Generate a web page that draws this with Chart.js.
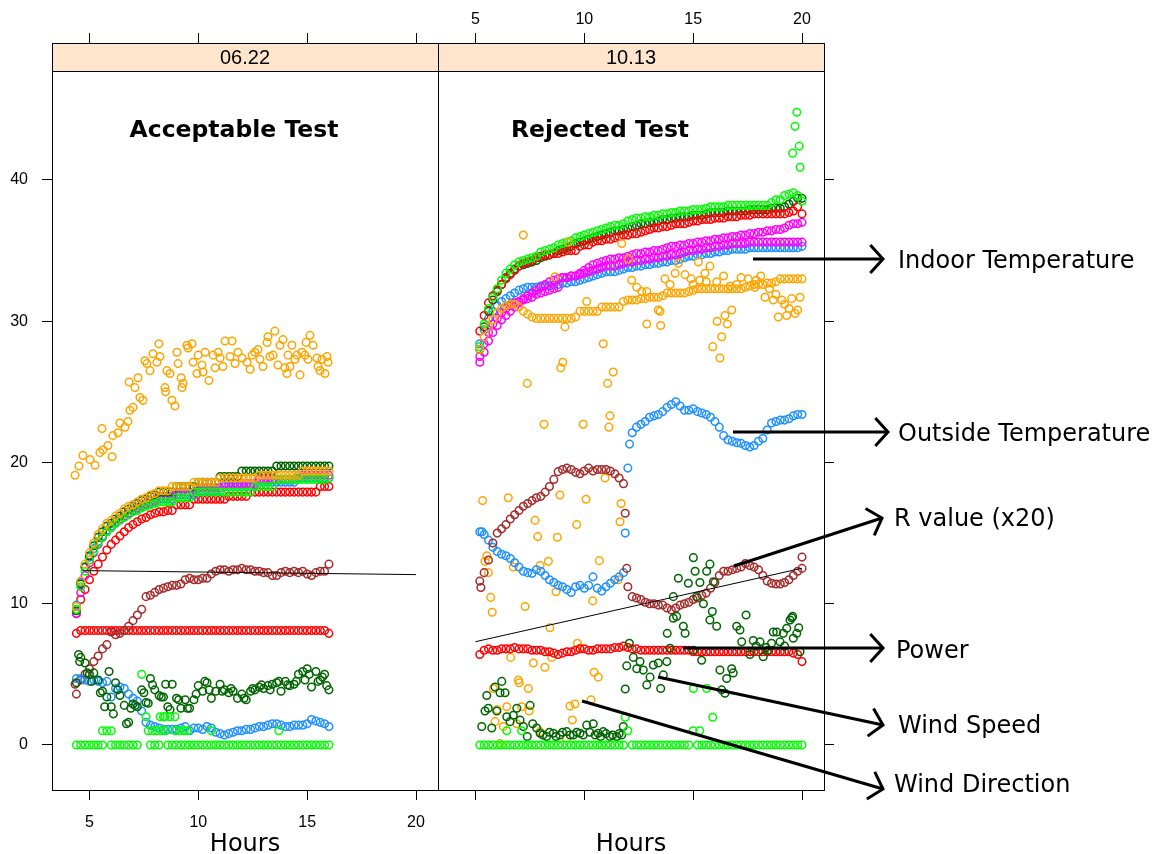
<!DOCTYPE html>
<html><head><meta charset="utf-8">
<script src="https://cdn.jsdelivr.net/npm/chart.js@4.4.0/dist/chart.umd.min.js"></script>
<style>
html,body{margin:0;padding:0;background:#fff;}
#wrap{position:relative;width:1158px;height:854px;background:#fff;}
canvas{position:absolute;left:0;top:0;}
</style></head><body>
<div id="wrap"><canvas id="cL" width="1158" height="854"></canvas><canvas id="cR" width="1158" height="854"></canvas></div>
<script>
// ---------- axis ticks ----------
const xTickVals = [5, 10, 15, 20];
const yTickVals = [0, 10, 20, 30, 40];
const stripLabels = ['06.22', '10.13'];
const panelTitles = ['Acceptable Test', 'Rejected Test'];
const axisTitle = 'Hours';

// ---------- left panel (06.22) ----------
const hoursL = [4.4,4.6,4.8,5.0,5.2,5.4,5.6,5.8,6.0,6.2,
 6.4,6.6,6.8,7.0,7.2,7.4,7.6,7.8,8.0,8.2,
 8.4,8.6,8.8,9.0,9.2,9.4,9.6,9.8,10.0,10.2,
 10.4,10.6,10.8,11.0,11.2,11.4,11.6,11.8,12.0,12.2,
 12.4,12.6,12.8,13.0,13.2,13.4,13.6,13.8,14.0,14.2,
 14.4,14.6,14.8,15.0,15.2,15.4,15.6,15.8,16.0];
const indoorRedL = [9.3,10.3,11.0,11.7,12.3,12.8,13.3,13.8,14.2,14.5,
 14.8,15.1,15.4,15.6,15.8,16.0,16.1,16.3,16.4,16.5,
 16.5,16.6,16.6,17.0,17.0,17.0,17.0,17.4,17.4,17.4,
 17.4,17.4,17.4,17.4,17.4,17.6,17.6,17.6,17.6,17.6,
 17.9,17.9,17.9,17.9,17.9,17.9,17.9,17.9,17.9,17.9,
 17.9,17.9,17.9,17.9,17.9,17.9,18.3,18.3,18.3];
const indoorLimeL = [9.6,11.2,12.3,13.1,13.7,14.3,14.7,15.1,15.4,15.7,
 15.9,16.1,16.3,16.5,16.6,16.8,16.9,17.0,17.1,17.2,
 17.2,17.2,17.2,17.5,17.5,17.5,17.5,17.9,17.9,17.9,
 17.9,17.9,17.9,17.9,17.9,17.9,17.9,17.9,17.9,17.9,
 17.9,18.3,18.3,18.3,18.3,18.3,18.8,18.8,18.8,18.8,
 18.8,18.8,18.8,18.8,18.8,18.8,18.8,18.8,18.9];
const indoorOrangeL = [9.8,11.6,12.8,13.6,14.3,14.9,15.3,15.7,15.9,16.2,
 16.4,16.7,16.9,17.0,17.2,17.4,17.5,17.7,17.8,18.0,
 18.0,18.0,18.3,18.3,18.3,18.3,18.3,18.6,18.6,18.6,
 18.6,18.6,18.6,18.9,18.9,18.9,18.9,18.9,18.9,18.9,
 18.9,18.9,19.1,19.1,19.1,19.1,19.1,19.1,19.1,19.1,
 19.1,19.1,19.4,19.4,19.4,19.4,19.4,19.4,19.4];
const indoorDarkGreenL = [9.5,11.4,12.6,13.4,14.1,14.7,15.1,15.5,15.7,16.0,
 16.2,16.5,16.7,16.9,17.1,17.3,17.4,17.6,17.7,17.9,
 17.9,17.9,17.9,18.3,18.3,18.3,18.3,18.3,18.6,18.6,
 18.6,18.6,18.6,19.0,19.0,19.0,19.0,19.0,19.4,19.4,
 19.4,19.4,19.4,19.4,19.4,19.4,19.75,19.75,19.75,19.75,
 19.75,19.75,19.75,19.75,19.75,19.75,19.75,19.75,19.75];
const indoorMagentaL = [9.3,10.8,12.0,12.9,13.6,14.2,14.7,15.1,15.4,15.7,
 16.0,16.2,16.4,16.6,16.8,16.9,17.1,17.2,17.3,17.6,
 17.6,17.6,17.6,17.9,17.9,17.9,17.9,17.9,18.2,18.2,
 18.2,18.2,18.2,18.2,18.5,18.5,18.5,18.5,18.5,18.5,
 18.5,18.5,18.8,18.8,18.8,18.8,18.8,18.8,18.8,18.8,
 18.8,19.1,19.1,19.1,19.1,19.1,19.1,19.1,19.1];
const indoorBlueL = [9.9,11.5,12.6,13.3,13.9,14.4,14.8,15.2,15.5,15.8,
 16.0,16.2,16.4,16.6,16.7,16.9,17.0,17.1,17.2,17.4,
 17.4,17.4,17.4,17.7,17.7,17.7,17.7,17.7,18.0,18.0,
 18.0,18.0,18.0,18.0,18.3,18.3,18.3,18.3,18.3,18.3,
 18.3,18.3,18.6,18.6,18.6,18.6,18.6,18.6,18.6,18.6,
 18.6,18.9,18.9,18.9,18.9,18.9,18.9,18.9,18.9];
const rValueL = [3.6,4.6,5.0,5.4,5.9,6.3,6.8,7.1,8.0,7.8,
 7.9,8.1,8.4,8.8,9.2,9.6,10.5,10.6,10.8,11.0,
 11.1,11.2,11.3,11.3,11.4,11.7,11.8,11.7,11.7,11.8,
 11.8,12.1,12.3,12.4,12.4,12.3,12.4,12.4,12.5,12.4,
 12.4,12.3,12.3,12.2,12.2,12.0,12.0,12.2,12.3,12.2,
 12.3,12.2,12.3,12.1,12.0,12.2,12.3,12.3,12.8];
const rValueExtraL = [[4.34,4.3]];
const powerL = [7.9,8.1,8.1,8.1,8.1,8.1,8.1,8.1,8.1,8.1,
 8.1,8.1,8.1,8.1,8.1,8.1,8.1,8.1,8.1,8.1,
 8.1,8.1,8.1,8.1,8.1,8.1,8.1,8.1,8.1,8.1,
 8.1,8.1,8.1,8.1,8.1,8.1,8.1,8.1,8.1,8.1,
 8.1,8.1,8.1,8.1,8.1,8.1,8.1,8.1,8.1,8.1,
 8.1,8.1,8.1,8.1,8.1,8.1,8.1,8.1,7.9];
const windSpeedL = [4.4,6.2,5.8,5.0,5.1,4.6,3.8,3.4,2.7,4.4,
 3.5,2.8,1.6,2.9,2.7,3.9,3.0,4.7,3.9,3.5,
 3.4,2.7,4.3,3.3,2.6,3.2,2.6,3.2,4.2,3.8,
 4.4,3.3,3.8,4.3,3.9,3.7,3.8,3.3,3.6,3.2,
 3.8,3.9,4.1,4.0,4.2,4.3,4.4,3.8,4.5,4.2,
 4.3,5.0,5.2,5.4,4.1,5.2,4.6,5.0,3.9];
const windSpeedExtraL = [[4.5,6.4],[4.55,5.9],[4.9,5.1],[5.1,4.5],[5.5,3.7],[5.7,2.7],[5.9,5.2],[6.1,2.2],[6.3,3.9],[6.7,1.5],
 [6.9,2.6],[7.1,2.8],[7.5,3.7],[7.7,2.95],[7.9,4.25],[8.3,3.4],[8.5,4.3],[8.7,2.5],[9.1,3.2],[9.5,2.6],
 [9.9,3.6],[10.3,4.5],[10.5,3.9],[11.1,3.8],[11.5,4.0],[12.1,3.3],[12.5,4.0],[12.9,4.25],[13.3,3.9],[13.7,4.5],
 [14.1,4.25],[14.5,4.5],[14.9,4.6],[15.1,5.0],[15.5,4.5],[15.7,4.8],[15.9,4.2]];
const outsideTempL = [4.7,4.7,4.6,4.5,4.6,4.5,4.4,4.5,3.4,4.0,
 4.1,4.0,3.6,3.3,3.1,2.4,1.6,1.4,1.3,1.2,
 1.1,1.1,1.1,1.1,1.2,1.3,1.0,1.2,1.2,1.1,
 1.3,1.2,0.9,0.8,0.7,0.8,0.9,1.0,1.0,1.1,
 1.1,1.2,1.3,1.3,1.4,1.5,1.5,1.4,1.3,1.3,
 1.4,1.4,1.4,1.5,1.8,1.7,1.6,1.5,1.3];
const windDirL = [0,0,0,0,0,0,0,1,0,0,
 0,0,0,0,0,5,2,0,0,0,
 2,0,0,0,0,0,0,0,0,0,
 0,0,0,0,0,0,0,0,0,0,
 0,0,0,0,0,0,0,0,0,0,
 0,0,0,0,0,0,0,0,0];
const windDirExtraL = [[5.6,1],[6.0,1],[7.7,1],[7.9,1],[8.1,1],[8.3,1],[8.5,1],[8.95,1],[9.15,1],[9.35,1],[9.5,1],[10.6,1],[13.7,1],
 [8.25,2],[8.47,2],[8.7,2],[8.93,2]];
const scatterOrangeL = [[4.34,19.1],[4.52,19.75],[4.70,20.5],[5.03,20.2],[5.26,19.8],[5.48,20.7],[5.58,22.4],[5.62,20.9],[5.85,21.2],[6.04,20.4],
 [6.08,21.9],[6.31,22.1],[6.40,22.8],[6.63,22.5],[6.77,22.9],[6.82,25.7],[6.86,23.7],[7.00,23.9],[7.09,25.3],[7.23,26.0],
 [7.32,24.6],[7.46,24.4],[7.55,27.2],[7.64,27.0],[7.78,26.5],[7.92,27.7],[8.10,27.1],[8.19,28.4],[8.24,27.5],[8.47,25.3],
 [8.50,25.0],[8.56,26.5],[8.70,26.3],[8.79,24.4],[8.93,24.0],[9.02,27.8],[9.07,27.0],[9.21,26.0],[9.25,25.3],[9.30,25.6],
 [9.48,28.3],[9.53,28.1],[9.71,28.4],[9.76,27.1],[9.94,26.3],[9.99,27.6],[10.17,26.9],[10.22,26.4],[10.31,27.8],[10.49,25.8],
 [10.68,27.6],[10.77,26.7],[10.91,27.8],[11.00,27.4],[11.13,26.8],[11.23,28.6],[11.46,27.5],[11.55,28.6],[11.69,27.0],[11.82,27.8],
 [12.01,27.4],[12.24,27.1],[12.38,26.6],[12.47,27.6],[12.60,27.8],[12.74,28.0],[12.83,27.3],[12.97,26.8],[13.16,28.5],[13.20,28.9],
 [13.29,27.5],[13.43,27.6],[13.52,29.3],[13.66,26.9],[13.75,28.3],[13.89,28.7],[13.98,26.7],[14.07,26.3],[14.12,27.6],[14.21,26.8],
 [14.30,28.3],[14.44,27.3],[14.53,27.6],[14.67,26.2],[14.76,27.8],[14.90,27.6],[14.95,28.5],[15.04,27.3],[15.13,29.0],[15.27,28.3],
 [15.45,27.4],[15.50,26.8],[15.59,26.5],[15.68,27.3],[15.82,26.3],[15.91,27.5],[15.96,27.1]];
const fitLineL = [[4.9,12.34],[20.0,12.06]];

// ---------- right panel (10.13) ----------
const hoursR = [5.2,5.4,5.6,5.8,6.0,6.2,6.4,6.6,6.8,7.0,
 7.2,7.4,7.6,7.8,8.0,8.2,8.4,8.6,8.8,9.0,
 9.2,9.4,9.6,9.8,10.0,10.2,10.4,10.6,10.8,11.0,
 11.2,11.4,11.6,11.8,12.0,12.2,12.4,12.6,12.8,13.0,
 13.2,13.4,13.6,13.8,14.0,14.2,14.4,14.6,14.8,15.0,
 15.2,15.4,15.6,15.8,16.0,16.2,16.4,16.6,16.8,17.0,
 17.2,17.4,17.6,17.8,18.0,18.2,18.4,18.6,18.8,19.0,
 19.2,19.4,19.6,19.8,20.0];
const indoorRedR = [29.3,30.4,31.3,31.8,32.2,32.6,33.0,33.3,33.6,33.9,
 34.1,34.2,34.3,34.5,34.6,34.7,34.7,34.8,34.8,34.9,
 35.0,35.0,35.0,35.3,35.4,35.4,35.6,35.7,35.7,35.8,
 35.8,35.9,36.0,36.1,36.1,36.2,36.2,36.3,36.4,36.5,
 36.6,36.6,36.7,36.7,36.8,36.9,36.9,36.9,37.0,37.1,
 37.1,37.2,37.2,37.2,37.3,37.3,37.3,37.4,37.4,37.4,
 37.5,37.5,37.5,37.6,37.6,37.6,37.6,37.6,37.6,37.6,
 37.6,37.7,37.8,38.1,37.6];
const indoorLimeR = [28.2,29.8,30.9,31.7,32.3,32.9,33.4,33.7,34.0,34.2,
 34.3,34.4,34.5,34.6,34.9,35.0,35.1,35.2,35.4,35.5,
 35.6,35.7,35.9,36.0,36.1,36.2,36.3,36.4,36.5,36.6,
 36.7,36.8,36.8,36.9,37.1,37.2,37.3,37.3,37.4,37.4,
 37.5,37.5,37.6,37.6,37.7,37.7,37.8,37.8,37.8,37.9,
 37.9,37.9,38.0,38.1,38.1,38.1,38.1,38.2,38.2,38.2,
 38.2,38.2,38.2,38.2,38.2,38.2,38.2,38.4,38.6,38.6,
 38.9,39.0,39.1,38.9,38.5];
const indoorDarkGreenR = [28.0,29.6,30.7,31.5,32.1,32.6,33.1,33.4,33.7,33.9,
 34.0,34.1,34.2,34.3,34.5,34.6,34.7,34.8,35.0,35.1,
 35.2,35.3,35.5,35.6,35.7,35.8,35.9,36.0,36.1,36.2,
 36.3,36.4,36.4,36.5,36.6,36.7,36.8,36.9,36.9,37.0,
 37.0,37.1,37.2,37.2,37.3,37.3,37.4,37.4,37.4,37.5,
 37.5,37.5,37.6,37.7,37.7,37.7,37.7,37.8,37.8,37.8,
 37.8,37.8,37.9,37.9,37.9,37.9,37.9,38.0,38.0,38.0,
 38.1,38.3,38.5,38.7,38.7];
const indoorMagentaR = [27.1,27.8,28.6,29.2,29.7,30.1,30.4,30.7,31.0,31.3,
 31.6,31.8,32.0,32.2,32.4,32.6,32.8,32.9,33.0,33.1,
 33.1,33.2,33.2,33.4,33.6,33.8,34.0,34.1,34.2,34.3,
 34.4,34.4,34.5,34.5,34.6,34.7,34.8,34.8,34.9,34.9,
 35.0,35.0,35.1,35.2,35.3,35.3,35.4,35.4,35.5,35.5,
 35.6,35.6,35.7,35.7,35.8,35.8,35.9,35.9,36.0,36.0,
 36.1,36.1,36.2,36.2,36.3,36.3,36.4,36.4,36.5,36.5,
 36.6,36.8,36.9,36.9,37.0];
const indoorMagenta2R = [27.5,28.4,29.2,29.8,30.2,30.6,30.9,31.1,31.3,31.4,
 31.5,31.6,31.7,31.9,32.0,32.1,32.2,32.3,32.4,33.1,
 33.1,33.2,33.2,33.3,33.4,33.5,33.6,33.7,33.8,33.9,
 33.9,33.9,34.0,34.1,34.2,34.2,34.3,34.3,34.4,34.4,
 34.5,34.5,34.6,34.6,34.7,34.7,34.8,34.9,35.0,35.0,
 35.1,35.1,35.2,35.2,35.3,35.3,35.4,35.4,35.5,35.5,
 35.5,35.5,35.6,35.6,35.6,35.6,35.6,35.6,35.6,35.6,
 35.6,35.6,35.6,35.6,35.6];
const indoorBlueR = [28.4,29.4,30.2,30.7,31.1,31.4,31.6,31.8,32.0,32.2,
 32.3,32.4,32.4,32.4,32.5,32.5,32.5,32.6,32.6,32.7,
 32.7,32.8,32.8,32.9,33.0,33.1,33.2,33.3,33.4,33.5,
 33.5,33.5,33.6,33.7,33.8,33.8,33.9,33.9,34.0,34.0,
 34.1,34.1,34.2,34.2,34.3,34.3,34.4,34.5,34.6,34.6,
 34.7,34.7,34.8,34.8,34.9,34.9,35.0,35.0,35.1,35.1,
 35.1,35.1,35.2,35.2,35.2,35.2,35.2,35.2,35.2,35.2,
 35.2,35.2,35.2,35.2,35.3];
const indoorOrangeR = [28.0,28.9,29.6,30.1,30.6,30.9,31.1,31.2,31.2,31.0,
 30.7,30.5,30.3,30.2,30.2,30.2,30.2,30.2,30.2,30.2,
 30.2,30.2,30.3,30.7,30.7,30.7,30.7,30.7,31.0,31.0,
 31.0,31.0,31.0,31.4,31.5,31.5,31.5,31.6,31.6,31.7,
 31.7,31.7,31.8,32.0,32.0,32.0,32.0,32.0,32.1,32.2,
 32.3,32.3,32.3,32.3,32.3,32.3,32.3,32.3,32.3,32.3,
 32.3,32.4,32.5,32.6,32.6,32.6,32.7,32.7,32.8,33.0,
 33.0,33.0,33.0,33.0,33.0];
const rValueR = [11.6,12.2,13.1,14.3,15.0,15.3,15.6,16.0,16.3,16.6,
 16.9,17.1,17.3,17.5,17.6,17.9,18.3,18.8,19.35,19.5,
 19.6,19.5,19.3,19.2,19.4,19.6,19.4,19.5,19.5,19.5,
 19.4,19.2,18.9,18.5,11.2,10.5,10.4,10.3,10.1,10.0,
 10.0,9.9,9.9,9.7,9.55,9.7,9.9,10.0,10.1,10.3,
 10.4,10.6,10.75,11.1,11.5,12.0,12.3,12.3,12.4,12.5,
 12.6,12.85,12.7,12.6,12.4,12.0,11.6,11.45,11.4,11.4,
 11.5,11.7,12.0,12.3,12.5];
const rValueExtraR = [[5.25,11.15],[11.88,16.4],[11.95,12.5],[20.0,13.3]];
const outsideTempR = [15.1,14.9,14.5,14.0,13.7,13.5,13.4,13.2,12.9,12.6,
 12.3,12.2,12.15,12.4,12.3,12.0,11.7,11.5,11.3,11.2,
 11.0,10.8,11.2,11.3,11.1,11.3,11.9,11.1,10.9,11.2,
 11.45,11.7,11.9,12.2,19.6,22.1,22.5,22.7,22.9,23.2,
 23.3,23.4,23.6,23.9,24.1,24.3,24.0,23.7,23.7,23.8,
 23.6,23.5,23.4,23.2,22.9,22.5,21.9,21.6,21.5,21.4,
 21.35,21.2,21.1,21.2,21.5,21.7,22.3,22.8,22.9,23.0,
 23.0,23.1,23.3,23.4,23.4];
const outsideTempExtraR = [[5.3,15.1],[11.88,15.0],[12.08,21.3]];
const powerR = [6.4,6.7,6.8,6.7,6.7,6.8,6.8,6.8,6.9,6.8,
 6.8,6.8,6.7,6.7,6.7,6.6,6.6,6.5,6.4,6.5,
 6.6,6.6,6.7,6.8,6.8,6.7,6.7,6.8,6.8,6.8,
 6.8,6.9,6.9,7.0,6.9,6.8,6.8,6.7,6.7,6.7,
 6.7,6.7,6.7,6.7,6.7,6.7,6.7,6.7,6.7,6.6,
 6.6,6.6,6.6,6.6,6.6,6.6,6.6,6.6,6.6,6.6,
 6.6,6.6,6.6,6.6,6.6,6.6,6.6,6.6,6.6,6.6,
 6.6,6.6,6.5,6.4,5.9];
const windSpeedR = [[5.29,1.3],[5.44,2.4],[5.52,3.5],[5.59,2.6],[5.75,1.2],[5.90,4.1],[5.98,2.4],[6.13,3.7],[6.21,4.5],[6.36,3.7],
 [6.44,2.0],[6.59,1.65],[6.74,2.1],[6.9,2.6],[7.05,1.77],[7.20,1.3],[7.38,0.6],[7.51,2.8],[7.63,1.5],[7.81,1.2],
 [7.97,0.83],[8.1,0.7],[8.27,0.6],[8.4,0.9],[8.58,0.83],[8.7,0.6],[8.88,0.7],[9.0,0.9],[9.19,0.94],[9.35,0.7],
 [9.50,0.7],[9.65,0.9],[9.80,0.83],[9.95,0.7],[10.11,1.4],[10.25,0.9],[10.41,1.5],[10.5,0.7],[10.64,0.83],[10.75,0.6],
 [10.87,0.94],[11.0,0.8],[11.18,0.6],[11.3,0.7],[11.49,0.6],[11.6,0.8],[11.72,0.7],[11.79,1.3],
 [11.88,3.96],[11.95,5.6],[12.07,7.2],[12.25,6.2],[12.41,5.4],[12.56,5.9],[12.71,5.3],[12.87,4.25],[13.02,4.8],[13.17,5.66],
 [13.40,5.8],[13.51,4.0],[13.63,4.96],[13.79,5.9],[13.81,7.9],[13.94,6.85],[14.09,8.97],[14.09,10.5],[14.24,9.1],[14.32,11.8],
 [14.55,8.4],[14.63,7.9],[14.78,11.45],[15.01,6.7],[15.01,13.26],[15.09,12.3],[15.16,10.5],[15.31,11.5],[15.39,6.0],[15.47,10.0],
 [15.62,12.3],[15.77,12.8],[15.77,8.85],[15.88,9.45],[15.93,11.56],[16.08,8.4],[16.23,5.3],[16.31,3.9],[16.46,3.66],[16.54,4.7],
 [16.77,5.4],[16.84,5.1],[17.0,8.4],[17.15,8.14],[17.23,7.3],[17.43,9.2],[17.61,6.4],[17.76,7.4],[17.9,7.0],[18.07,7.3],
 [18.22,6.25],[18.35,6.9],[18.45,6.7],[18.6,7.2],[18.68,8.0],[18.84,8.0],[18.99,7.3],[19.14,7.9],[19.2,7.0],[19.30,8.26],
 [19.45,8.85],[19.53,9.0],[19.57,9.1],[19.6,7.55],[19.76,7.9],[19.85,8.3],[19.91,6.6]];
const windDirR = [0,0,0,0,0,0,0,0,0,0,
 0,0,0,0,0,0,0,0,0,0,
 0,0,0,0,0,0,0,0,0,0,
 0,0,0,0,1,0,0,0,0,0,
 0,0,0,0,0,0,0,0,0,1,
 0,0,0,0,0,0,0,0,0,0,
 0,0,0,0,0,0,0,0,0,0,
 0,0,0,0,0];
const windDirExtraR = [[11.88,1.96],[6.44,1.0],[7.12,1.0],[15.01,4.0],[15.62,4.0],[15.9,1.96],[15.3,1.0],
 [19.57,41.9],[19.68,43.8],[19.76,44.8],[19.87,42.4],[19.91,40.9]];
const scatterOrangeR = [[7.20,36.1],[9.27,35.6],[8.65,33.15],[10.11,31.4],[9.11,29.6],[10.87,28.4],[9.01,27.1],[8.92,26.7],[7.38,25.6],[11.33,26.4],
 [11.07,25.6],[11.72,35.5],[12.02,34.4],[12.18,32.9],[12.41,32.4],[12.64,32.1],[12.87,32.1],[13.40,30.8],[13.48,30.7],[12.87,29.8],
 [13.51,29.7],[13.94,32.6],[14.17,33.4],[14.63,33.3],[14.32,34.1],[15.24,34.2],[15.77,33.9],[15.54,33.4],[15.60,32.8],[16.08,32.8],
 [16.10,30.0],[16.31,28.9],[16.23,27.4],[16.46,30.4],[16.77,30.8],[16.57,29.8],[17.53,33.0],[17.84,32.4],[18.30,31.7],[18.68,31.5],
 [18.91,30.3],[19.30,30.4],[19.68,30.55],[19.91,31.7],[19.53,31.6],[19.07,31.5],[14.9,33.0],[15.0,32.6],[15.3,32.9],[16.4,33.2],
 [16.7,32.5],[17.0,32.6],[17.2,33.1],[17.9,32.9],[18.1,33.2],[18.5,32.3],[18.8,31.9],[19.2,31.2],[19.4,30.9],[19.8,30.8],
 [13.7,33.0],[15.9,28.2],[11.18,23.3],[11.13,22.5],[8.15,22.7],[9.95,22.7],
 [5.33,17.3],[6.51,17.5],[8.88,17.7],[10.08,17.4],[10.95,18.9],[7.74,15.9],[7.86,14.75],[8.76,14.7],[9.65,15.6],[10.69,13.05],
 [11.69,17.1],[11.64,15.8],[5.52,13.4],[5.44,13.0],[6.74,12.6],[7.97,12.7],[8.35,13.0],[5.59,12.2],[11.56,11.7],[8.70,10.85],
 [5.70,10.45],[5.77,9.4],[7.28,9.8],[10.39,10.2],[8.42,8.3],[9.68,7.2],[9.80,6.85],[6.62,6.2],[7.66,5.8],[8.19,5.5],
 [8.50,6.2],[10.45,5.15],[10.64,4.8],[5.82,4.0],[6.97,4.6],[7.01,4.4],[7.43,4.0],[6.00,2.5],[6.44,2.7],[7.12,2.7],
 [7.47,2.4],[5.90,1.65],[6.28,1.3],[6.90,1.5],[7.97,0.94],[9.19,0.47],[9.34,2.75],[9.57,2.9],[9.45,1.77],[10.31,3.2],[6.13,0.1]];
const fitLineR = [[5.0,7.31],[20.0,12.51]];

// ---------- annotation labels ----------
const annotations = [
  {text:'Indoor Temperature', tx:898, ty:268, from:[753,259], to:[883,259]},
  {text:'Outside Temperature', tx:898, ty:441, from:[733,432], to:[888,432]},
  {text:'R value (x20)', tx:894, ty:526, from:[734,566], to:[882,518]},
  {text:'Power', tx:896, ty:658, from:[683,648], to:[883,648]},
  {text:'Wind Speed', tx:898, ty:733, from:[658,677], to:[883,725]},
  {text:'Wind Direction', tx:894, ty:792, from:[582,701], to:[883,789]}
];

// ---------- styling ----------
const C = {red:'#FF0000', dkgreen:'#006400', lime:'#00FF00', magenta:'#FF00FF', blue:'#1E90FF', orange:'#FFA500', brown:'#A52A2A'};
const XMIN = 3.28, XMAX = 21.01, YMIN = -3.19, YMAX = 49.70;
const TICK_FONT = {family:"'Liberation Sans', Arial, Helvetica, sans-serif", size:16};
const SANS = "'DejaVu Sans', Verdana, sans-serif";

function zip(xs, ys){ const out=[]; for(let i=0;i<xs.length;i++){ if(ys[i]!==null && ys[i]!==undefined) out.push({x:xs[i], y:ys[i]}); } return out; }
function pts(p){ return p.map(a=>({x:a[0], y:a[1]})); }
function ring(label, color, data){
  return {label, data, borderColor:color, backgroundColor:'rgba(0,0,0,0)', pointRadius:3.8, pointHoverRadius:3.8, pointBorderWidth:1.5, borderWidth:1.5, showLine:false};
}
function fit(data){
  return {label:'fit', data:pts(data), showLine:true, borderColor:'#000', borderWidth:1, pointRadius:0, pointHoverRadius:0, fill:false};
}

function scales(isL){
  const grid = {drawOnChartArea:false, drawTicks:true, tickLength:10, color:'#000', lineWidth:1};
  const setX = s=>{ s.ticks = xTickVals.map(v=>({value:v})); };
  return {
    x: {type:'linear', axis:'x', position:'bottom', min:XMIN, max:XMAX, afterBuildTicks:setX,
        afterFit:s=>{ s.height = 64; },
        ticks:{font:TICK_FONT, color:'#000', padding:13, maxRotation:0, autoSkip:false, callback:v=> isL ? String(v) : ''},
        grid, border:{display:false},
        title:{display:true, text:axisTitle, color:'#000', font:{family:SANS, size:24, lineHeight:0.75}, padding:{top:0,bottom:0}}},
    xTop: {type:'linear', axis:'x', position:'top', min:XMIN, max:XMAX, afterBuildTicks:setX,
        afterFit:s=>{ s.height = 43; },
        ticks:{font:TICK_FONT, color:'#000', padding:4, maxRotation:0, autoSkip:false, callback:v=> isL ? '' : String(v)},
        grid, border:{display:false}},
    y: {type:'linear', axis:'y', position: isL ? 'left' : 'right', min:YMIN, max:YMAX,
        afterBuildTicks:s=>{ s.ticks = yTickVals.map(v=>({value:v})); },
        afterFit:s=>{ s.width = isL ? 52 : 334; },
        ticks:{font:TICK_FONT, color:'#000', padding:14, callback:v=> isL ? String(v) : ''},
        grid, border:{display:false}}
  };
}

const panelDeco = {
  id:'panelDeco',
  afterDatasetsDraw(chart, args, o){
    const {ctx, chartArea:a} = chart;
    const L = Math.round(a.left), T = Math.round(a.top), R = Math.round(a.right), B = Math.round(a.bottom);
    ctx.save();
    ctx.fillStyle = '#FFE5CC';
    ctx.fillRect(L, T, R-L, 28);
    ctx.strokeStyle = '#000'; ctx.lineWidth = 1;
    ctx.beginPath(); ctx.moveTo(L, T+28.5); ctx.lineTo(R, T+28.5); ctx.stroke();
    ctx.strokeRect(L+0.5, T+0.5, R-L, B-T);
    ctx.fillStyle = '#000';
    ctx.textAlign = 'center'; ctx.textBaseline = 'middle';
    ctx.font = "20px 'Liberation Sans', Arial, sans-serif";
    ctx.fillText(o.strip, (L+R)/2, T+15);
    ctx.font = "bold 23.5px " + SANS;
    ctx.fillText(o.title, o.titleX, 131);
    if (o.annotate){
      ctx.lineWidth = 3; ctx.lineCap = 'butt'; ctx.lineJoin = 'miter';
      ctx.textAlign = 'left'; ctx.textBaseline = 'alphabetic';
      ctx.font = "24px " + SANS;
      annotations.forEach(an=>{
        const [x0,y0] = an.from, [x1,y1] = an.to;
        ctx.beginPath(); ctx.moveTo(x0,y0); ctx.lineTo(x1,y1); ctx.stroke();
        const th = Math.atan2(y1-y0, x1-x0), hl = 19, ha = 48*Math.PI/180;
        ctx.beginPath();
        ctx.moveTo(x1 - hl*Math.cos(th-ha), y1 - hl*Math.sin(th-ha));
        ctx.lineTo(x1, y1);
        ctx.lineTo(x1 - hl*Math.cos(th+ha), y1 - hl*Math.sin(th+ha));
        ctx.stroke();
        ctx.fillText(an.text, an.tx, an.ty);
      });
    }
    ctx.restore();
  }
};

function baseOptions(isL){
  return {
    responsive:false, animation:false, events:[],
    layout:{padding: isL ? {left:0,right:720,top:0,bottom:0} : {left:438,right:0,top:0,bottom:0}},
    scales: scales(isL),
    plugins:{legend:{display:false}, tooltip:{enabled:false},
      panelDeco: isL ? {strip:stripLabels[0], title:panelTitles[0], titleX:234, annotate:false}
                     : {strip:stripLabels[1], title:panelTitles[1], titleX:600, annotate:true}}
  };
}

const dsL = [
  fit(fitLineL),
  ring('Wind Direction', C.lime, zip(hoursL, windDirL).concat(pts(windDirExtraL))),
  ring('Wind Speed', C.dkgreen, zip(hoursL, windSpeedL).concat(pts(windSpeedExtraL))),
  ring('Outside Temperature', C.blue, zip(hoursL, outsideTempL)),
  ring('R value (x20)', C.brown, zip(hoursL, rValueL).concat(pts(rValueExtraL))),
  ring('Power', C.red, zip(hoursL, powerL)),
  ring('Orange scatter', C.orange, pts(scatterOrangeL)),
  ring('Indoor orange', C.orange, zip(hoursL, indoorOrangeL)),
  ring('Indoor lime', C.lime, zip(hoursL, indoorLimeL)),
  ring('Indoor darkgreen', C.dkgreen, zip(hoursL, indoorDarkGreenL)),
  ring('Indoor magenta', C.magenta, zip(hoursL, indoorMagentaL)),
  ring('Indoor blue', C.blue, zip(hoursL, indoorBlueL)),
  ring('Indoor red', C.red, zip(hoursL, indoorRedL))
];
const dsR = [
  fit(fitLineR),
  ring('Wind Direction', C.lime, zip(hoursR, windDirR).concat(pts(windDirExtraR))),
  ring('Wind Speed', C.dkgreen, pts(windSpeedR)),
  ring('R value (x20)', C.brown, zip(hoursR, rValueR).concat(pts(rValueExtraR))),
  ring('Outside Temperature', C.blue, zip(hoursR, outsideTempR).concat(pts(outsideTempExtraR))),
  ring('Power', C.red, zip(hoursR, powerR)),
  ring('Orange scatter', C.orange, pts(scatterOrangeR)),
  ring('Indoor orange', C.orange, zip(hoursR, indoorOrangeR)),
  ring('Indoor lime', C.lime, zip(hoursR, indoorLimeR)),
  ring('Indoor red', C.red, zip(hoursR, indoorRedR)),
  ring('Indoor darkgreen', C.dkgreen, zip(hoursR, indoorDarkGreenR)),
  ring('Indoor magenta', C.magenta, zip(hoursR, indoorMagentaR)),
  ring('Indoor magenta 2', C.magenta, zip(hoursR, indoorMagenta2R)),
  ring('Indoor blue', C.blue, zip(hoursR, indoorBlueR))
];

new Chart(document.getElementById('cL'), {type:'scatter', data:{datasets:dsL}, options:baseOptions(true), plugins:[panelDeco]});
new Chart(document.getElementById('cR'), {type:'scatter', data:{datasets:dsR}, options:baseOptions(false), plugins:[panelDeco]});
</script>
</body></html>
